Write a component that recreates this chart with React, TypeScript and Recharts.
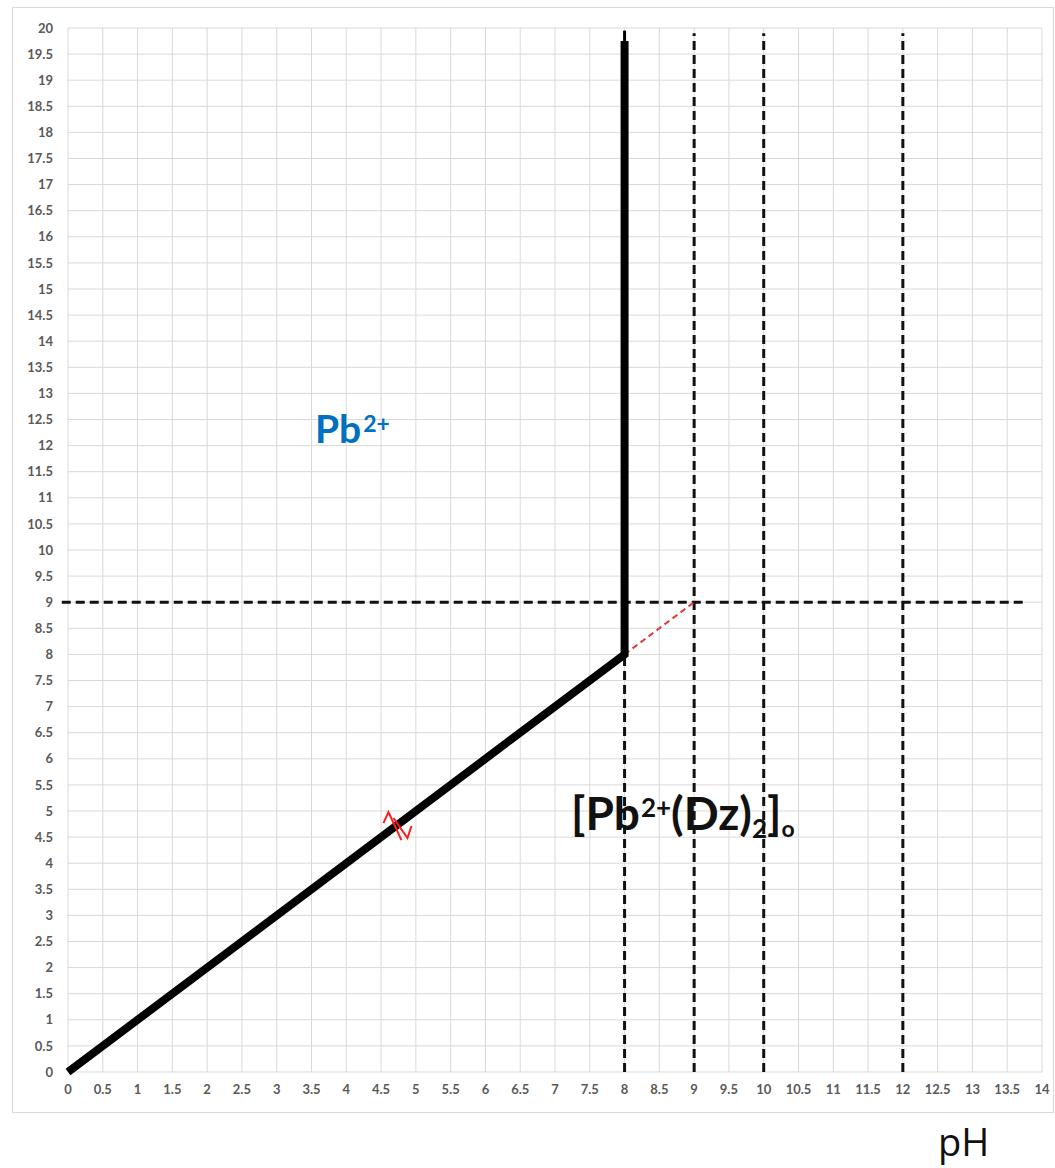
import { CartesianGrid, Line, LineChart, ReferenceDot, ReferenceLine, XAxis, YAxis } from "recharts";

const phTicks = [0, 0.5, 1, 1.5, 2, 2.5, 3, 3.5, 4, 4.5, 5, 5.5, 6, 6.5, 7, 7.5, 8, 8.5, 9, 9.5, 10, 10.5, 11, 11.5, 12, 12.5, 13, 13.5, 14];
const levelTicks = [
  0, 0.5, 1, 1.5, 2, 2.5, 3, 3.5, 4, 4.5, 5, 5.5, 6, 6.5, 7, 7.5, 8, 8.5, 9, 9.5, 10,
  10.5, 11, 11.5, 12, 12.5, 13, 13.5, 14, 14.5, 15, 15.5, 16, 16.5, 17, 17.5, 18, 18.5, 19, 19.5, 20
];

// Pb2+ / [Pb2+(Dz)2]o boundary: slope up to pH 8, then vertical
const boundary = [
  { ph: 0, level: 0 },
  { ph: 8, level: 8 },
  { ph: 8, level: 19.75 }
];
const boundaryTip = [
  { ph: 8, level: 19.75 },
  { ph: 8, level: 19.95 }
];
// slope continued past the break
const extrapolated = [
  { ph: 8, level: 8 },
  { ph: 9, level: 9 }
];

const guidePh = [9, 10, 12];
const guideTop = 19.9;
const breakPh = 8;
const guideLevel = 9;
const guideLevelStart = -0.09;
const guideLevelEnd = 13.75;
const equilibriumAt = { ph: 4.75, level: 4.75 };

const tickStyle = { fill: "#595959", fontSize: 13, fontWeight: 700, fontFamily: "Lato, 'Open Sans', sans-serif" };
const dash = { stroke: "#111", strokeWidth: 3, strokeDasharray: "9 5" };
const labelFont = "Lato, 'Open Sans', sans-serif";

function EquilibriumMark(props: any) {
  const { cx, cy } = props;
  if (cx == null || cy == null) return null;
  return (
    <g stroke="#ff1a1a" strokeWidth={2} fill="none">
      <path d={`M${cx - 15},${cy - 1} L${cx - 10},${cy - 12} L${cx + 3},${cy + 16}`} />
      <path d={`M${cx - 5},${cy - 6} L${cx + 9},${cy + 14} L${cx + 13},${cy + 2}`} />
    </g>
  );
}

export default function App() {
  return (
    <div style={{ position: "absolute", left: 0, top: 0, width: 1055, height: 1168, background: "#fff" }}>
      <div
        style={{
          position: "absolute",
          left: 12,
          top: 7,
          width: 1042,
          height: 1106,
          border: "1px solid #d9d9d9",
          boxSizing: "border-box"
        }}
      />
      <div style={{ position: "absolute", left: 0, top: 0 }}>
        <LineChart width={1055} height={1168} margin={{ top: 28, right: 13, bottom: 66, left: 0 }}>
          <CartesianGrid stroke="#d9d9d9" strokeWidth={1} />
          <XAxis
            dataKey="ph"
            type="number"
            domain={[0, 14]}
            ticks={phTicks}
            interval={0}
            height={30}
            axisLine={false}
            tickLine={false}
            tickSize={6}
            tickMargin={7}
            tick={tickStyle}
          />
          <YAxis
            dataKey="level"
            type="number"
            domain={[0, 20]}
            ticks={levelTicks}
            interval={0}
            width={68}
            axisLine={false}
            tickLine={false}
            tickSize={6}
            tickMargin={9}
            tick={tickStyle}
          />
          <ReferenceLine
            segment={[{ x: guideLevelStart, y: guideLevel }, { x: guideLevelEnd, y: guideLevel }]}
            ifOverflow="visible"
            {...dash}
          />
          <ReferenceLine segment={[{ x: breakPh, y: 0 }, { x: breakPh, y: 8 }]} {...dash} />
          {guidePh.map((p) => (
            <ReferenceLine key={p} segment={[{ x: p, y: 0 }, { x: p, y: guideTop }]} {...dash} />
          ))}
          <Line
            data={extrapolated}
            dataKey="level"
            stroke="#e53935"
            strokeWidth={2}
            strokeDasharray="6 4"
            dot={false}
            isAnimationActive={false}
          />
          <Line
            data={boundaryTip}
            dataKey="level"
            stroke="#000"
            strokeWidth={3}
            dot={false}
            isAnimationActive={false}
          />
          <Line
            data={boundary}
            dataKey="level"
            stroke="#000"
            strokeWidth={8}
            strokeLinejoin="miter"
            dot={false}
            isAnimationActive={false}
          />
          <ReferenceDot x={equilibriumAt.ph} y={equilibriumAt.level} shape={EquilibriumMark} />
        </LineChart>
      </div>
      <div
        style={{
          position: "absolute",
          left: 315,
          top: 409,
          fontFamily: labelFont,
          fontWeight: 700,
          fontSize: 39,
          color: "#0070c0",
          lineHeight: 1
        }}
      >
        Pb<sup style={{ fontSize: 23, verticalAlign: "0.5em", marginLeft: 2 }}>2+</sup>
      </div>
      <div
        style={{
          position: "absolute",
          left: 571,
          top: 790,
          fontFamily: labelFont,
          fontWeight: 700,
          fontSize: 46,
          color: "#111",
          lineHeight: 1,
          whiteSpace: "nowrap"
        }}
      >
        [Pb<sup style={{ fontSize: 26, verticalAlign: "0.5em", marginLeft: 1 }}>2+</sup>(Dz)
        <sub style={{ fontSize: 26, verticalAlign: "-0.3em" }}>2</sub>]
        <sub style={{ fontSize: 23, verticalAlign: "-0.3em" }}>o</sub>
      </div>
      <div
        style={{
          position: "absolute",
          left: 938,
          top: 1122,
          fontFamily: "'Open Sans', Lato, sans-serif",
          fontSize: 38,
          color: "#111",
          lineHeight: 1
        }}
      >
        pH
      </div>
    </div>
  );
}
